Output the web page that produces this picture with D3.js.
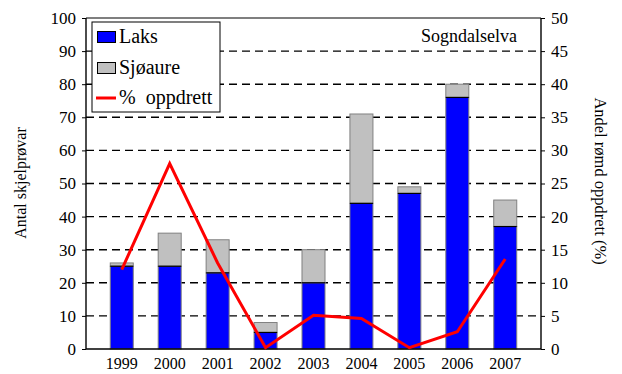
<!DOCTYPE html>
<html>
<head>
<meta charset="utf-8">
<script src="https://cdn.jsdelivr.net/npm/d3@7"></script>
<style>
  html, body { margin: 0; padding: 0; background: #fff; }
  svg text { font-family: "Liberation Serif", "Times New Roman", Times, serif; }
</style>
</head>
<body>
<svg id="chart" width="622" height="374"></svg>
<script>
// Skjelprøvar per år i Sogndalselva
const years = ["1999", "2000", "2001", "2002", "2003", "2004", "2005", "2006", "2007"];
const laks = [25, 25, 23, 5, 20, 44, 47, 76, 37];
const sjoaure = [1, 10, 10, 3, 10, 27, 2, 4, 8];
const oppdrett = [12, 28, 13, 0.2, 5.1, 4.6, 0.2, 2.6, 13.6];
const leftTicks = [0, 10, 20, 30, 40, 50, 60, 70, 80, 90, 100];
const rightTicks = [0, 5, 10, 15, 20, 25, 30, 35, 40, 45, 50];

const svg = d3.select("#chart");
const m = { left: 86, right: 541, top: 18, bottom: 349 };

const x = d3.scaleBand().domain(years).range([m.left, m.right])
  .paddingInner(0.52).paddingOuter(0.506);
const y = d3.scaleLinear().domain([0, 100]).range([m.bottom, m.top]);
const y2 = d3.scaleLinear().domain([0, 50]).range([m.bottom, m.top]);

// dashed grid lines
svg.append("g").selectAll("line").data(leftTicks.filter(d => d > 0 && d < 100)).join("line")
  .attr("x1", m.left).attr("x2", m.right)
  .attr("y1", d => y(d)).attr("y2", d => y(d))
  .attr("stroke", "#000").attr("stroke-width", 1.4).attr("stroke-dasharray", "8,5");

// stacked bars
const rows = years.map((yr, i) => ({ yr, laks: laks[i], sjo: sjoaure[i] }));
const g = svg.append("g");
rows.forEach(r => {
  g.append("rect").attr("x", x(r.yr)).attr("width", x.bandwidth())
    .attr("y", y(r.laks + r.sjo)).attr("height", y(r.laks) - y(r.laks + r.sjo))
    .attr("fill", "#c0c0c0").attr("stroke", "#808080").attr("stroke-width", 1);
  g.append("rect").attr("x", x(r.yr)).attr("width", x.bandwidth())
    .attr("y", y(r.laks)).attr("height", y(0) - y(r.laks))
    .attr("fill", "#0000ff").attr("stroke", "#808080").attr("stroke-width", 1);
  g.append("line").attr("x1", x(r.yr)).attr("x2", x(r.yr) + x.bandwidth())
    .attr("y1", y(r.laks)).attr("y2", y(r.laks)).attr("stroke", "#000").attr("stroke-width", 1.2);
});

// top edge of the frame
svg.append("line").attr("x1", m.left).attr("x2", m.right).attr("y1", m.top).attr("y2", m.top)
  .attr("stroke", "#000").attr("stroke-width", 1.2);

// axes
const axL = svg.append("g").attr("transform", `translate(${m.left},0)`)
  .call(d3.axisLeft(y).tickValues(leftTicks).tickSize(4).tickPadding(6));
const axR = svg.append("g").attr("transform", `translate(${m.right},0)`)
  .call(d3.axisRight(y2).tickValues(rightTicks).tickSize(4).tickPadding(6));
const axB = svg.append("g").attr("transform", `translate(0,${m.bottom})`)
  .call(d3.axisBottom(x).tickSize(0).tickPadding(9));
[axL, axR, axB].forEach(a => {
  a.attr("font-family", null);
  a.selectAll("path").attr("stroke", "#000").attr("stroke-width", 1.4);
  a.selectAll("line").attr("stroke", "#000");
  a.selectAll("text").attr("font-size", 17).attr("fill", "#000");
});
axB.selectAll("text").attr("font-size", 16);
axB.select(".domain").attr("d", `M${m.left},0H${m.right}`);
axL.select(".domain").attr("d", `M0,${m.bottom}V${m.top}`);
axR.select(".domain").attr("d", `M0,${m.bottom}V${m.top}`);

// red line for share of farmed fish
svg.append("path").datum(years.map((yr, i) => [yr, oppdrett[i]]))
  .attr("fill", "none").attr("stroke", "#ff0000").attr("stroke-width", 3)
  .attr("stroke-linejoin", "miter")
  .attr("d", d3.line().x(d => x(d[0]) + x.bandwidth() / 2).y(d => y2(d[1])));

// axis titles
svg.append("text").attr("transform", "translate(22,183) rotate(-90)")
  .attr("text-anchor", "middle").attr("dominant-baseline", "middle")
  .attr("font-size", 16).text("Antal skjelprøvar");
svg.append("text").attr("transform", "translate(599,181) rotate(90)")
  .attr("text-anchor", "middle").attr("dominant-baseline", "middle")
  .attr("font-size", 16.5).text("Andel rømd oppdrett (%)");

// river name
svg.append("text").attr("x", 517).attr("y", 42).attr("text-anchor", "end")
  .attr("font-size", 18).text("Sogndalselva");

// legend
const lg = svg.append("g");
lg.append("rect").attr("x", 92).attr("y", 22).attr("width", 128).attr("height", 90)
  .attr("fill", "#fff").attr("stroke", "#000").attr("stroke-width", 1);
lg.append("rect").attr("x", 97.5).attr("y", 31.5).attr("width", 18).attr("height", 11)
  .attr("fill", "#0000ff").attr("stroke", "#000");
lg.append("text").attr("x", 119).attr("y", 43).attr("font-size", 20).text("Laks");
lg.append("rect").attr("x", 97.5).attr("y", 62.5).attr("width", 18).attr("height", 11)
  .attr("fill", "#c0c0c0").attr("stroke", "#000");
lg.append("text").attr("x", 119).attr("y", 74).attr("font-size", 20).text("Sjøaure");
lg.append("line").attr("x1", 96).attr("x2", 116).attr("y1", 98).attr("y2", 98)
  .attr("stroke", "#ff0000").attr("stroke-width", 3);
lg.append("text").attr("x", 119).attr("y", 104).attr("font-size", 20).attr("xml:space", "preserve")
  .text("%  oppdrett");
</script>
</body>
</html>
